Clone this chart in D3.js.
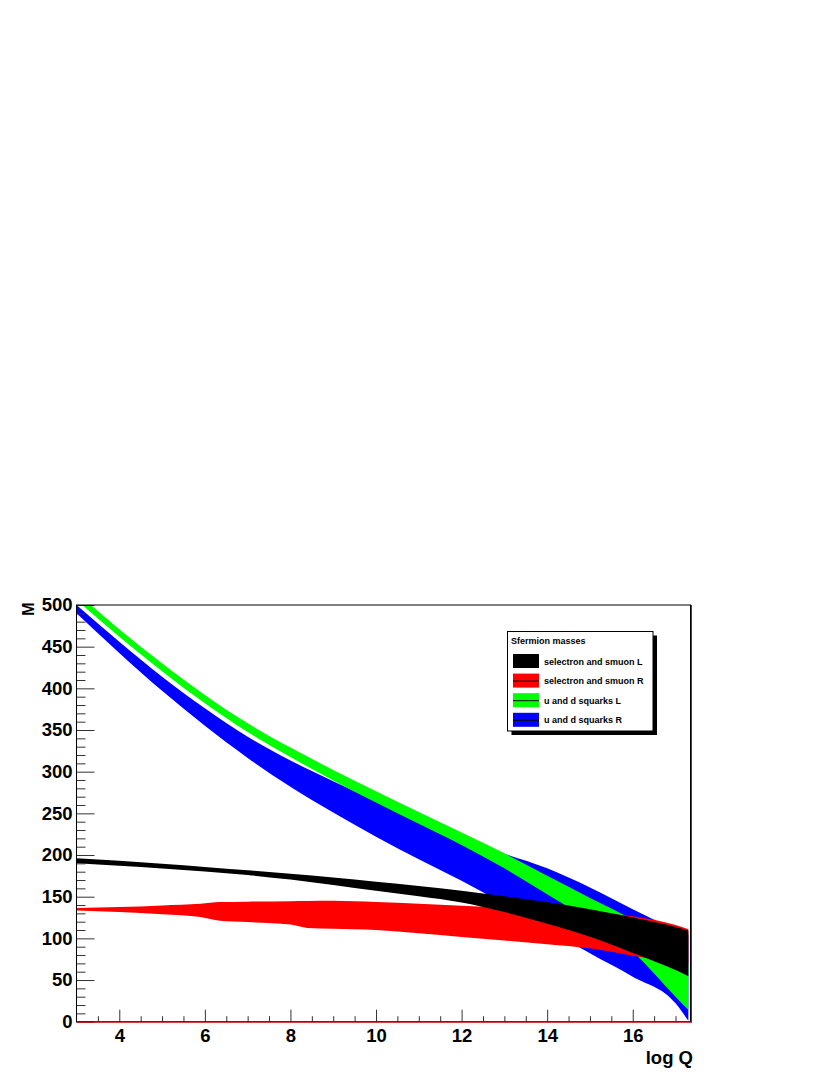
<!DOCTYPE html>
<html>
<head>
<meta charset="utf-8">
<script src="https://cdn.jsdelivr.net/npm/d3@7"></script>
<style>
  body { margin: 0; background: #fff; }
  text { font-family: 'Liberation Sans', Arial, sans-serif; font-weight: bold; }
</style>
</head>
<body>
<div id="chart"></div>
<script>
// data (log Q on x, M on y)
var xGrid = [3, 4, 5, 6, 7, 8, 9, 10, 11, 12, 13, 14, 15, 16, 17, 17.3];

var selLUpper = [196, 193, 189.5, 185.7, 181.7, 177.4, 172.9, 168, 162.8, 157, 150.5, 143.3, 135, 125, 113.5, 109];
var selLLower = [190, 187, 183.8, 180.3, 176, 170.5, 164, 157, 150.5, 143, 131.5, 117.5, 102, 82.5, 62, 54.5];

var selRX     = [3, 4, 5, 5.9, 6.35, 7, 8, 8.4, 9, 10, 11, 12, 13, 14, 15, 16, 17, 17.3];
var selRUpper = [136.5, 137.5, 139.5, 141.5, 143.5, 144, 144.5, 144.8, 145, 143.5, 141.5, 139, 136.5, 134, 131, 126.5, 116, 111];
var selRLower = [133.5, 131.5, 129, 125.5, 121, 119.5, 116.5, 112.5, 111.5, 110, 106, 101.5, 97.5, 93, 88, 79, 71, 69];

var sqLUpper = [515, 471, 430, 392, 358, 329, 302, 276.5, 251.5, 227, 202, 175, 148.5, 122, 84, 68];
var sqLLower = [506, 462, 420.5, 382, 347.5, 317.5, 289.5, 263, 237.5, 212, 184, 153, 121.5, 84, 30, 14];

var sqRUpper = [500, 456, 414, 376, 342, 313.5, 288.5, 264.5, 240, 218, 201.5, 184, 161, 135, 110.5, 104];
var sqRLower = [490, 442.5, 397, 355, 316.5, 282, 251, 222, 195, 169, 141, 112.5, 82, 54, 22, 1];

var legendNames = ['selectron and smuon L', 'selectron and smuon R', 'u and d squarks L', 'u and d squarks R'];
var legendColors = ['#000000', '#ff0000', '#00ff00', '#0000ff'];

var xMajor = [4, 6, 8, 10, 12, 14, 16];
var yMajor = [0, 50, 100, 150, 200, 250, 300, 350, 400, 450, 500];

// frame of the pad
var W = 830, H = 1075;
var plot = {left: 76.5, right: 690.5, top: 605, bottom: 1021.7};

var svg = d3.select('#chart')
            .append('svg')
            .attr('width', W)
            .attr('height', H);

var x = d3.scaleLinear().domain([3, 17.35]).range([plot.left, plot.right]);
var y = d3.scaleLinear().domain([0, 500]).range([plot.bottom, plot.top]);

svg.append('clipPath')
   .attr('id', 'clip')
   .append('rect')
   .attr('x', plot.left)
   .attr('y', plot.top)
   .attr('width', plot.right - plot.left)
   .attr('height', plot.bottom - plot.top);

// bands, drawn blue -> green -> red -> black
var bands = [
  {xs: xGrid, up: sqRUpper, lo: sqRLower, color: '#0000ff'},
  {xs: xGrid, up: sqLUpper, lo: sqLLower, color: '#00ff00'},
  {xs: selRX, up: selRUpper, lo: selRLower, color: '#ff0000'},
  {xs: xGrid, up: selLUpper, lo: selLLower, color: '#000000'}
];

var area = d3.area()
             .x(d => x(d[0]))
             .y0(d => y(d[2]))
             .y1(d => y(d[1]))
             .curve(d3.curveMonotoneX);

svg.append('g')
   .attr('clip-path', 'url(#clip)')
   .selectAll('path')
   .data(bands)
   .enter()
   .append('path')
   .attr('d', b => area(b.xs.map((v, i) => [v, b.up[i], b.lo[i]])))
   .attr('fill', b => b.color)
   .attr('stroke', 'none');

// axes (ticks pointing into the pad)
var yAxis = svg.append('g')
               .attr('transform', `translate(${plot.left},0)`)
               .call(d3.axisLeft(y).tickValues(yMajor).tickSize(-18).tickPadding(4));
var yMinor = svg.append('g')
                .attr('transform', `translate(${plot.left},0)`)
                .call(d3.axisLeft(y).tickValues(d3.range(10, 500, 10).filter(v => v % 50 !== 0)).tickSize(-9).tickFormat(''));

var xAxis = svg.append('g')
               .attr('transform', `translate(0,${plot.bottom})`)
               .call(d3.axisBottom(x).tickValues(xMajor).tickSize(-12).tickPadding(7));
var xMinor = svg.append('g')
                .attr('transform', `translate(0,${plot.bottom})`)
                .call(d3.axisBottom(x).tickValues(d3.range(3.5, 17.3, 0.5).filter(v => v % 2 !== 0)).tickSize(-5.5).tickFormat(''));

[yAxis, yMinor, xAxis, xMinor].forEach(a => {
  a.select('.domain').remove();
  a.selectAll('line').attr('stroke', '#333').attr('stroke-width', 1);
  a.selectAll('text').attr('font-size', 18.5).attr('fill', '#000')
   .style('font-family', "'Liberation Sans', Arial, sans-serif").style('font-weight', 'bold');
});

// pad frame
svg.append('rect')
   .attr('x', plot.left)
   .attr('y', plot.top)
   .attr('width', plot.right - plot.left)
   .attr('height', plot.bottom - plot.top)
   .attr('fill', 'none')
   .attr('stroke', '#000')
   .attr('stroke-width', 1);
svg.append('line')
   .attr('x1', plot.left).attr('x2', plot.right + 1)
   .attr('y1', plot.bottom + 0.5).attr('y2', plot.bottom + 0.5)
   .attr('stroke', '#e00000').attr('stroke-width', 1);
svg.append('line')
   .attr('x1', plot.right + 1).attr('x2', plot.right + 1)
   .attr('y1', plot.top).attr('y2', plot.bottom + 1)
   .attr('stroke', '#e00000').attr('stroke-width', 1);

// axis titles
svg.append('text')
   .attr('transform', 'translate(34,609) rotate(-90)')
   .attr('text-anchor', 'middle')
   .attr('font-size', 16)
   .text('M');
svg.append('text')
   .attr('x', 693)
   .attr('y', 1064)
   .attr('text-anchor', 'end')
   .attr('font-size', 18.5)
   .text('log Q');

// legend with shadow
var lg = {x: 507.5, y: 631.5, w: 145.5, h: 99.5};
svg.append('rect')
   .attr('x', lg.x + 4).attr('y', lg.y + 4)
   .attr('width', lg.w).attr('height', lg.h)
   .attr('fill', '#000');
svg.append('rect')
   .attr('x', lg.x).attr('y', lg.y)
   .attr('width', lg.w).attr('height', lg.h)
   .attr('fill', '#fff')
   .attr('stroke', '#000')
   .attr('stroke-width', 1);
svg.append('text')
   .attr('x', 511)
   .attr('y', 644)
   .attr('font-size', 9)
   .text('Sfermion masses');

var entries = svg.selectAll('.entry')
                 .data(legendNames)
                 .enter()
                 .append('g')
                 .attr('class', 'entry')
                 .attr('transform', (d, i) => `translate(0,${654 + i * 19.6})`);
entries.append('rect')
       .attr('x', 513).attr('y', 0)
       .attr('width', 26).attr('height', 14)
       .attr('fill', (d, i) => legendColors[i]);
entries.append('line')
       .attr('x1', 513).attr('x2', 539)
       .attr('y1', 7.5).attr('y2', 7.5)
       .attr('stroke', '#000').attr('stroke-width', 1);
entries.append('text')
       .attr('x', 544)
       .attr('y', 10.5)
       .attr('font-size', 9)
       .text(d => d);
</script>
</body>
</html>
